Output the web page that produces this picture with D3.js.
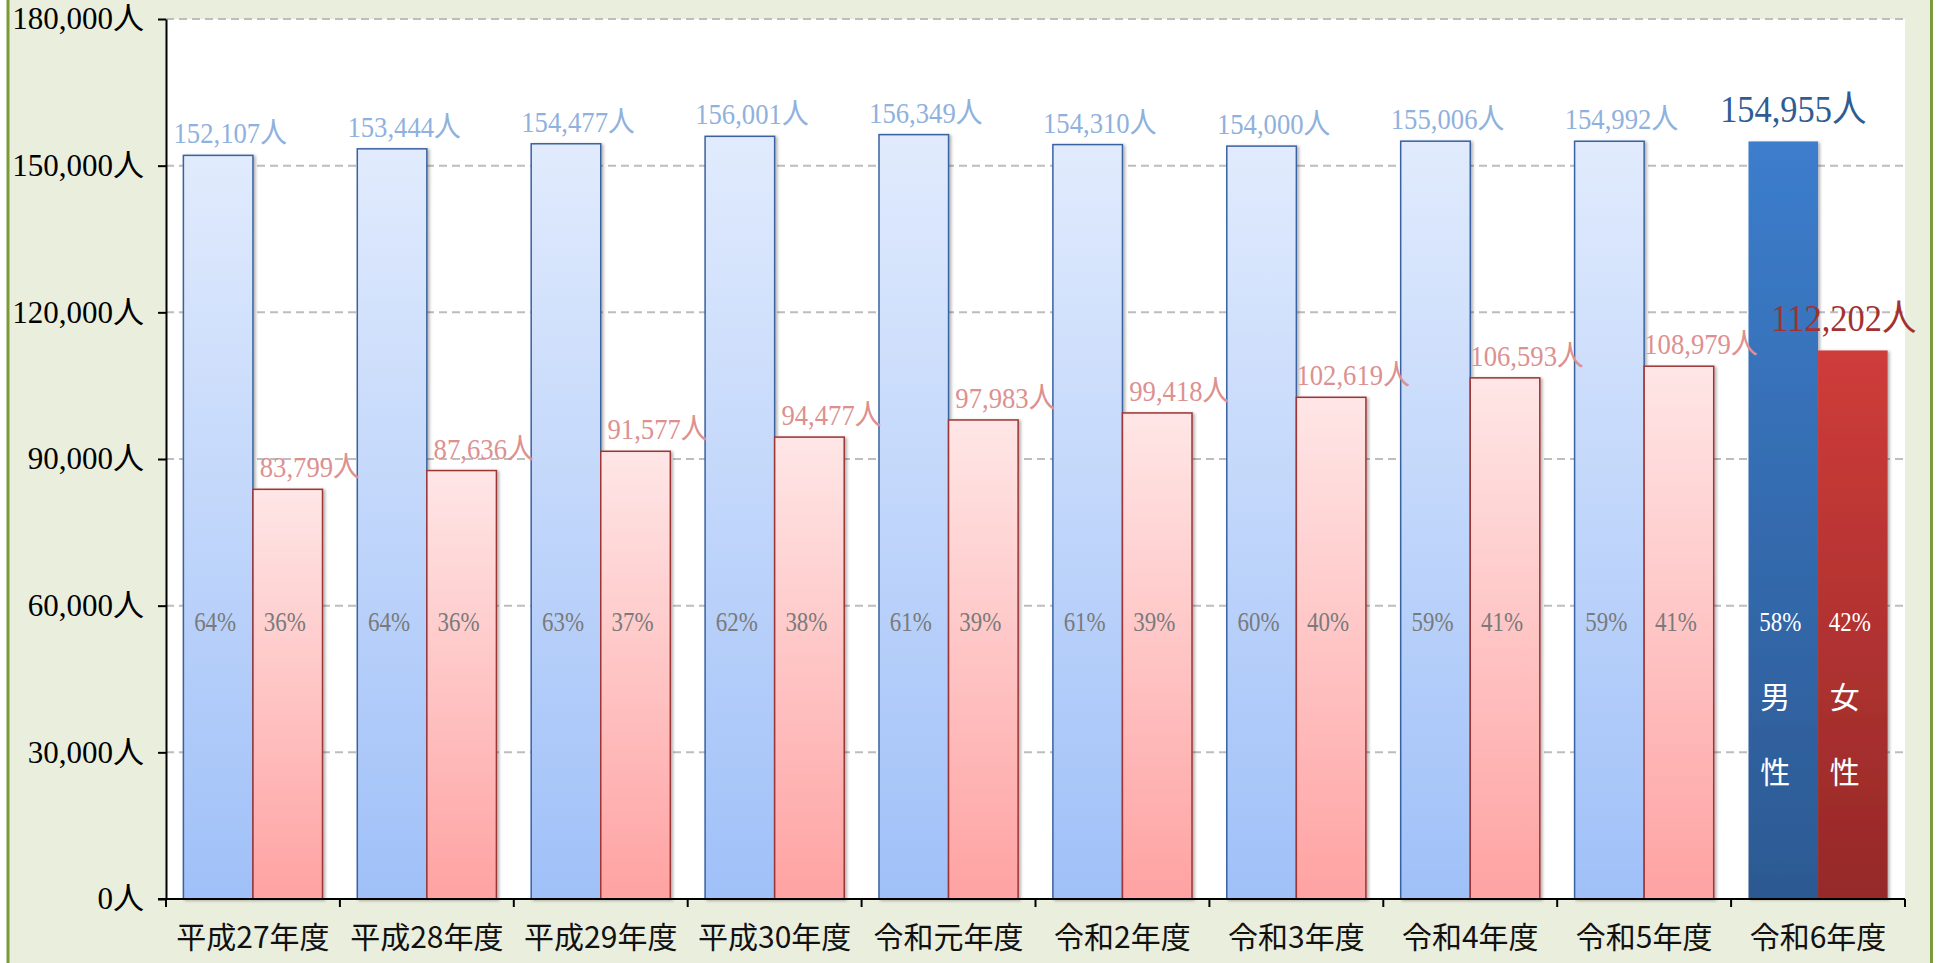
<html>
<head>
<meta charset="utf-8">
<script src="https://d3js.org/d3.v7.min.js"></script>
<style>
  body { margin: 0; background: #fff; }
  svg { display: block; }
</style>
</head>
<body>
<svg width="1950" height="963"></svg>
<script>
// data
const categories = ["平成27年度", "平成28年度", "平成29年度", "平成30年度", "令和元年度",
                    "令和2年度", "令和3年度", "令和4年度", "令和5年度", "令和6年度"];
const male   = [152107, 153444, 154477, 156001, 156349, 154310, 154000, 155006, 154992, 154955];
const female = [83799, 87636, 91577, 94477, 97983, 99418, 102619, 106593, 108979, 112202];
const malePct   = [64, 64, 63, 62, 61, 61, 60, 59, 59, 58];
const femalePct = [36, 36, 37, 38, 39, 39, 40, 41, 41, 42];
const yTicks = [0, 30000, 60000, 90000, 120000, 150000, 180000];
const sexLabels = ["男性", "女性"];

const svg = d3.select("svg");
const pLeft = 166, pRight = 1905, pTop = 19, pBottom = 899;
const serif = "'Liberation Serif', 'Noto Sans CJK JP', serif";
const gothic = "'Noto Sans CJK JP', sans-serif";
const last = categories.length - 1;

const x = d3.scaleBand().domain(categories).range([pLeft, pRight]).padding(0);
const sub = d3.scaleBand().domain(["m", "f"]).range([0, x.bandwidth()]).paddingInner(0).paddingOuter(0.25);
const y = d3.scaleLinear().domain([0, 180000]).range([pBottom, pTop]);

// gradients + shadow
const defs = svg.append("defs");
function grad(id, c1, c2) {
  const g = defs.append("linearGradient").attr("id", id).attr("x1", 0).attr("y1", 0).attr("x2", 0).attr("y2", 1);
  g.append("stop").attr("offset", "0%").attr("stop-color", c1);
  g.append("stop").attr("offset", "100%").attr("stop-color", c2);
}
grad("gBlue", "#e1ebfd", "#9fc0f8");
grad("gPink", "#ffe6e6", "#ffa2a2");
grad("gBlueDark", "#3c7dcc", "#2c5992");
grad("gRedDark", "#cf3c3a", "#952928");
defs.append("filter").attr("id", "shadow").attr("x", "-10%").attr("y", "-10%").attr("width", "130%").attr("height", "120%")
  .append("feDropShadow").attr("dx", 2).attr("dy", 1).attr("stdDeviation", 1.5)
  .attr("flood-color", "#000").attr("flood-opacity", 0.3);

// background frame
svg.append("rect").attr("x", 8).attr("y", 0).attr("width", 1924).attr("height", 963).attr("fill", "#eaeedd");
svg.append("line").attr("x1", 8).attr("x2", 8).attr("y1", 0).attr("y2", 963).attr("stroke", "#7b9a3c").attr("stroke-width", 3);
svg.append("line").attr("x1", 1931.5).attr("x2", 1931.5).attr("y1", 0).attr("y2", 963).attr("stroke", "#7b9a3c").attr("stroke-width", 3);

// plot area
svg.append("rect").attr("x", pLeft).attr("y", pTop).attr("width", pRight - pLeft).attr("height", pBottom - pTop).attr("fill", "#fff");

// gridlines
svg.append("g").selectAll("line").data(yTicks.filter(d => d > 0)).join("line")
  .attr("x1", pLeft).attr("x2", pRight)
  .attr("y1", d => y(d)).attr("y2", d => y(d))
  .attr("stroke", "#bdbdbd").attr("stroke-width", 2).attr("stroke-dasharray", "8,5");

// bars
const rows = categories.map((c, i) => ({ c, i, m: male[i], f: female[i], mp: malePct[i], fp: femalePct[i] }));
const bars = svg.append("g").attr("filter", "url(#shadow)");
bars.selectAll("rect.m").data(rows).join("rect").attr("class", "m")
  .attr("x", d => x(d.c) + sub("m")).attr("width", sub.bandwidth())
  .attr("y", d => y(d.m)).attr("height", d => y(0) - y(d.m))
  .attr("fill", d => d.i === last ? "url(#gBlueDark)" : "url(#gBlue)")
  .attr("stroke", d => d.i === last ? "none" : "#3a62a0").attr("stroke-width", 1.5);
bars.selectAll("rect.f").data(rows).join("rect").attr("class", "f")
  .attr("x", d => x(d.c) + sub("f")).attr("width", sub.bandwidth())
  .attr("y", d => y(d.f)).attr("height", d => y(0) - y(d.f))
  .attr("fill", d => d.i === last ? "url(#gRedDark)" : "url(#gPink)")
  .attr("stroke", d => d.i === last ? "none" : "#9e3434").attr("stroke-width", 1.5);

const cx = (d, k) => x(d.c) + sub(k) + sub.bandwidth() / 2;
const fmt = d3.format(",");

// value labels
svg.append("g").selectAll("text").data(rows).join("text")
  .attr("transform", d => d.i === last
      ? `translate(${cx(d, "m") + 10},${y(d.m) - 19}) scale(0.93,1)`
      : `translate(${cx(d, "m") + 12},${y(d.m) - 12}) scale(0.92,1)`)
  .attr("text-anchor", "middle").attr("font-family", serif)
  .attr("font-size", d => d.i === last ? 37 : 29)
  .attr("fill", d => d.i === last ? "#2f5c93" : "#8fb1dd")
  .text(d => fmt(d.m) + "人");
svg.append("g").selectAll("text").data(rows).join("text")
  .attr("transform", d => d.i === last
      ? `translate(${cx(d, "f") - 9},${y(d.f) - 19}) scale(0.93,1)`
      : `translate(${cx(d, "f") + 22},${y(d.f) - 12}) scale(0.92,1)`)
  .attr("text-anchor", "middle").attr("font-family", serif)
  .attr("font-size", d => d.i === last ? 37 : 29)
  .attr("fill", d => d.i === last ? "#a33131" : "#dd9090")
  .text(d => fmt(d.f) + "人");

// percent labels
const pctY = 631;
["m", "f"].forEach(k => {
  svg.append("g").selectAll("text").data(rows).join("text")
    .attr("transform", d => `translate(${cx(d, k) - 3},${pctY}) scale(0.82,1)`)
    .attr("text-anchor", "middle").attr("font-family", serif).attr("font-size", 28)
    .attr("fill", d => d.i === last ? "#fff" : "#7a7a7a")
    .text(d => (k === "m" ? d.mp : d.fp) + "%");
});

// 男性 / 女性 vertical text in the last group
["m", "f"].forEach((k, j) => {
  const d = rows[last];
  svg.append("g").selectAll("text").data(sexLabels[j].split("")).join("text")
    .attr("x", cx(d, k) - 8).attr("y", (t, n) => 708 + n * 75)
    .attr("text-anchor", "middle").attr("font-family", gothic).attr("font-size", 30)
    .attr("fill", "#fff").text(t => t);
});

// y axis
const ya = svg.append("g").attr("transform", `translate(${pLeft},0)`)
  .call(d3.axisLeft(y).tickValues(yTicks).tickSize(8).tickSizeOuter(0).tickPadding(14).tickFormat(d => fmt(d) + "人"));
ya.select(".domain").attr("stroke", "#000").attr("stroke-width", 2);
ya.selectAll(".tick line").attr("stroke", "#000").attr("stroke-width", 2);
ya.selectAll(".tick text").attr("font-family", serif).attr("font-size", 31).attr("fill", "#000");

// x axis
const xa = svg.append("g").attr("transform", `translate(0,${pBottom})`)
  .call(d3.axisBottom(x).tickSize(0).tickPadding(28));
xa.select(".domain").remove();
xa.selectAll(".tick text").attr("font-family", gothic).attr("font-size", 30).attr("fill", "#111");
svg.append("line").attr("x1", pLeft - 8).attr("x2", pRight).attr("y1", pBottom).attr("y2", pBottom)
  .attr("stroke", "#000").attr("stroke-width", 2);
svg.append("g").selectAll("line").data(categories.map(c => x(c)).concat([pRight])).join("line")
  .attr("x1", d => d).attr("x2", d => d).attr("y1", pBottom).attr("y2", pBottom + 8)
  .attr("stroke", "#000").attr("stroke-width", 2);
</script>
</body>
</html>
